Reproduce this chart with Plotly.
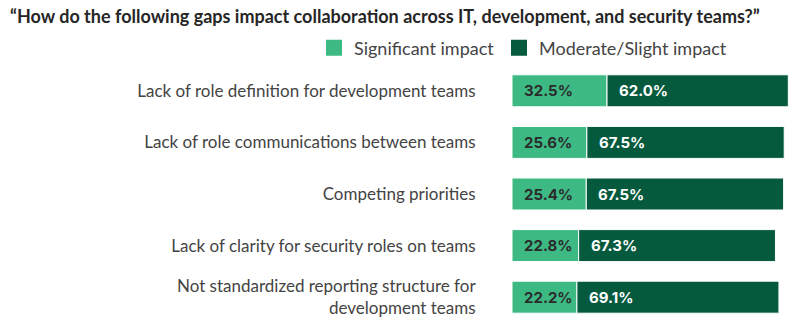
import plotly.graph_objects as go

categories = [
    "Lack of role definition for development teams",
    "Lack of role communications between teams",
    "Competing priorities",
    "Lack of clarity for security roles on teams",
    "Not standardized reporting structure for<br>development teams",
]
significant = [32.5, 25.6, 25.4, 22.8, 22.2]
moderate = [62.0, 67.5, 67.5, 67.3, 69.1]
series_names = ["Significant impact", "Moderate/Slight impact"]

LIGHT = "#3dba84"
DARK = "#055a3e"
LABEL_FONT = "Inter"
TEXT_FONT = "Lato"

fig = go.Figure()
fig.add_trace(go.Bar(
    y=categories, x=significant, orientation="h", name=series_names[0],
    marker=dict(color=LIGHT, line=dict(color="white", width=1)),
    showlegend=False, hoverinfo="skip",
))
fig.add_trace(go.Bar(
    y=categories, x=moderate, base=significant, orientation="h", name=series_names[1],
    marker=dict(color=DARK, line=dict(color="white", width=1)),
    showlegend=False, hoverinfo="skip",
))
# legend entries (one legend per item for exact placement)
for name, col, lg in zip(series_names, [LIGHT, DARK], ["legend", "legend2"]):
    fig.add_trace(go.Scatter(
        x=[None], y=[None], mode="markers", name=name, legend=lg,
        marker=dict(symbol="square", size=16, color=col),
    ))

annotations = []
for cat, s, m in zip(categories, significant, moderate):
    annotations.append(dict(
        x=0, y=cat, xref="x", yref="y", text=f"{s:.1f}%", showarrow=False,
        xanchor="left", xshift=10,
        font=dict(family=LABEL_FONT, size=15, color="#2b2b2b", weight="bold"),
    ))
    annotations.append(dict(
        x=s, y=cat, xref="x", yref="y", text=f"{m:.1f}%", showarrow=False,
        xanchor="left", xshift=10,
        font=dict(family=LABEL_FONT, size=15, color="white", weight="bold"),
    ))

legend_common = dict(
    orientation="h", xanchor="left",
    y=1 + (65 - 48) / 258, yanchor="middle",
    font=dict(family=TEXT_FONT, size=18, color="#444444"),
    bgcolor="rgba(0,0,0,0)",
)

fig.update_layout(
    width=800, height=323,
    margin=dict(l=512, r=0, t=65, b=0),
    paper_bgcolor="white", plot_bgcolor="white",
    barmode="overlay", bargap=0.38,
    title=dict(
        text="“How do the following gaps impact collaboration across IT, development, and security teams?”",
        x=10 / 800, xanchor="left", xref="container",
        y=1 - 17 / 323, yanchor="middle", yref="container",
        font=dict(family=TEXT_FONT, size=18, color="#262626", weight="bold"),
    ),
    legend=dict(x=(314 - 512) / 288, **legend_common),
    legend2=dict(x=(499 - 512) / 288, **legend_common),
    xaxis=dict(range=[0, 98.5], visible=False, fixedrange=True),
    yaxis=dict(
        autorange="reversed", showgrid=False, zeroline=False, showline=False,
        ticks="outside", ticklen=32, tickcolor="rgba(0,0,0,0)",
        tickfont=dict(family=TEXT_FONT, size=17, color="#444444"),
    ),
    annotations=annotations,
)

fig.write_html("out.html")
